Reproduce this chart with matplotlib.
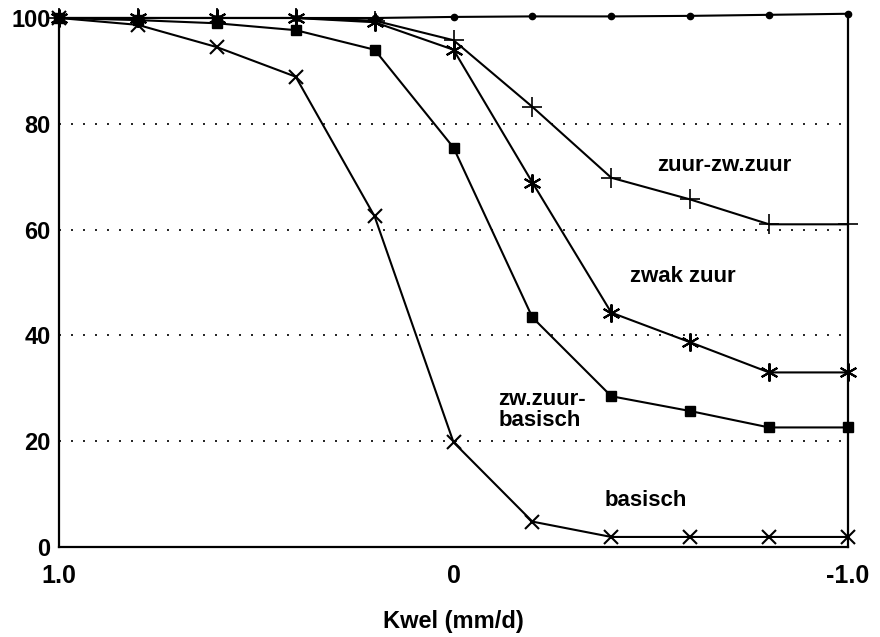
import numpy as np
import matplotlib.pyplot as plt

plt.rcParams['font.family'] = ['Liberation Sans', 'DejaVu Sans']
plt.rcParams['font.weight'] = 'bold'

# kwel (mm/d), plotted from +1.0 (links) naar -1.0 (rechts)
kwel = [1.0, 0.8, 0.6, 0.4, 0.2, 0.0, -0.2, -0.4, -0.6, -0.8, -1.0]

bovenste = [100, 100, 100, 100, 100, 100.2, 100.3, 100.3, 100.4, 100.6, 100.8]
zuur_zwzuur = [100, 100, 100, 100, 99.5, 95.8, 83.2, 69.8, 65.7, 61, 61]
zwak_zuur = [100, 100, 100, 100, 99.2, 94, 68.9, 44.3, 38.7, 33, 33]
zwzuur_basisch = [100, 99.6, 99, 97.7, 94, 75.5, 43.4, 28.5, 25.7, 22.6, 22.6]
basisch = [100, 98.7, 94.5, 88.9, 62.5, 19.8, 4.8, 1.9, 1.9, 1.9, 1.9]

xticks = [1.0, 0.0, -1.0]
xticklabels = ['1.0', '0', '-1.0']
yticks = [0, 20, 40, 60, 80, 100]

fig = plt.figure(figsize=(8.8, 6.37), dpi=100)
ax = fig.add_axes([59 / 880, 90 / 637, 789 / 880, 534.3 / 637])

for y in [20, 40, 60, 80]:
    ax.axhline(y, color='black', lw=1.2, linestyle=(0, (1.2, 6)), zorder=1)

lw = 1.5
ax.plot(kwel, bovenste, color='black', lw=lw, marker='o', ms=4.5, clip_on=False, zorder=3)
ax.plot(kwel, zuur_zwzuur, color='black', lw=lw, marker='+', ms=14, mew=1.2, clip_on=False, zorder=3)
ax.plot(kwel, zwak_zuur, color='black', lw=lw, marker=(6, 2, 0), ms=13, mew=1.5, clip_on=False, zorder=3)
ax.plot(kwel, zwzuur_basisch, color='black', lw=lw, marker='s', ms=7, clip_on=False, zorder=3)
ax.plot(kwel, basisch, color='black', lw=lw, marker='x', ms=10.5, mew=1.5, clip_on=False, zorder=3)

ax.set_xlim(1.0, -1.0)
ax.set_ylim(0, 101)

ax.spines['top'].set_visible(False)
for s in ['left', 'right', 'bottom']:
    ax.spines[s].set_linewidth(1.6)
ax.spines['left'].set_bounds(0, 100)
ax.spines['right'].set_bounds(0, 100.8)

ax.set_xticks(xticks)
ax.set_xticklabels(xticklabels, fontsize=18, fontweight='bold')
ax.set_yticks(yticks)
ax.set_yticklabels([str(v) for v in yticks], fontsize=17, fontweight='bold')
ax.tick_params(axis='both', length=0)
ax.tick_params(axis='x', pad=12)
ax.tick_params(axis='y', pad=6)

ax.set_xlabel('Kwel (mm/d)', fontsize=17, fontweight='bold', labelpad=16)

tekst = dict(fontsize=16, fontweight='bold', va='center')
ax.text(-0.686, 72.2, 'zuur-zw.zuur', ha='center', **tekst)
ax.text(-0.582, 51.2, 'zwak zuur', ha='center', **tekst)
ax.text(-0.113, 25.9, 'zw.zuur-\nbasisch', ha='left', linespacing=1.0, **tekst)
ax.text(-0.488, 8.7, 'basisch', ha='center', **tekst)

fig.savefig('out.png', dpi=100)
